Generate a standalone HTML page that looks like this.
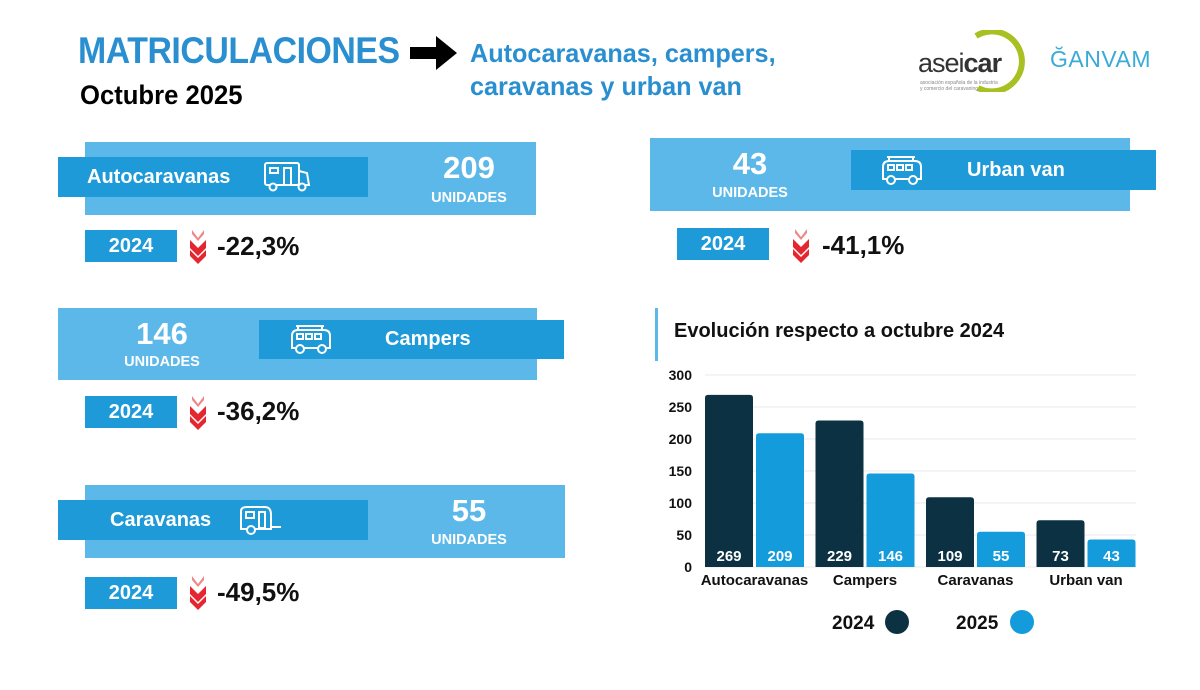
<!DOCTYPE html>
<html><head><meta charset="utf-8">
<style>
*{margin:0;padding:0;box-sizing:border-box}
body{width:1200px;height:690px;background:#fff;position:relative;overflow:hidden;font-family:"Liberation Sans",sans-serif}
.a{position:absolute}
.light{background:#5db8ea}
.dark{background:#1e9ad9}
.lbl{color:#fff;font-weight:bold;font-size:20px;line-height:40px}
.num{color:#fff;font-weight:bold;font-size:31px;text-align:center;width:140px}
.uni{color:#fff;font-weight:bold;font-size:14.5px;text-align:center;width:140px}
.yr{background:#1e9ad9;color:#fff;font-weight:bold;font-size:20px;text-align:center;width:92px;height:32px;line-height:32px}
.pct{font-weight:bold;font-size:26px;color:#111}
.narrow{font-weight:bold;transform-origin:0 0;white-space:nowrap}
</style></head><body>
<div class="a narrow" style="left:78px;top:30px;font-size:37px;color:#2a8fd0;letter-spacing:-0.5px;transform:scaleX(0.915)">MATRICULACIONES</div>
<svg class="a" style="left:410px;top:36px" width="48" height="34"><polygon points="0,11 26,11 26,0 47,17 26,34 26,23 0,23" fill="#000"/></svg>
<div class="a narrow" style="left:470px;top:37px;font-size:26px;color:#2a8fd0;line-height:33px;transform:scaleX(0.97)">Autocaravanas, campers,<br>caravanas y urban van</div>
<div class="a narrow" style="left:80px;top:80px;font-size:27px;color:#000;transform:scaleX(0.95)">Octubre 2025</div>
<div class="a" style="left:918px;top:30px;width:110px;height:62px">
<svg class="a" style="left:30px;top:0" width="80" height="62"><path d="M28,6 A30,30 0 1 1 30,58" fill="none" stroke="#a8c022" stroke-width="6"/></svg>
<div class="a" style="left:0;top:18px;font-size:27px;color:#333;letter-spacing:-1px">asei<b>car</b></div>
<div class="a" style="left:2px;top:50px;font-size:5px;color:#888;width:80px">asociación española de la industria y comercio del caravaning</div>
</div>
<div class="a" style="left:1050px;top:46px;font-size:23px;color:#3aaad8;letter-spacing:0.5px">ĞANVAM</div>

<!-- Autocaravanas card -->
<div class="a light" style="left:85px;top:142px;width:451px;height:73px"></div>
<div class="a dark" style="left:58px;top:157px;width:310px;height:40px"></div>
<div class="a lbl" style="left:87px;top:157px">Autocaravanas</div>
<svg class="a" style="left:263px;top:161px" width="48" height="32" fill="none" stroke="#fff" stroke-width="2"><rect x="2" y="2" width="34" height="22" rx="2"/><path d="M36,10 L44,12 L46,24 L36,24"/><rect x="7" y="7" width="8" height="5"/><path d="M21,24 V7 H28 V24"/><circle cx="10" cy="26" r="3.5" fill="#1e9ad9"/><circle cx="39" cy="26" r="3.5" fill="#1e9ad9"/></svg>
<div class="a num" style="left:399px;top:150px">209</div>
<div class="a uni" style="left:399px;top:190px">UNIDADES</div>
<div class="a yr" style="left:85px;top:230px">2024</div>
<svg class="a" style="left:188px;top:228px" width="20" height="36"><polygon points="2,12 10,20 18,12 18,20 10,28 2,20" fill="#e3262f"/><polygon points="2,22 10,30 18,22 18,28 10,36 2,28" fill="#e3262f"/><polygon points="4,2 10,10 16,2 16,6 10,13 4,6" fill="#e88"/></svg>
<div class="a pct" style="left:217px;top:231px">-22,3%</div>

<!-- Campers card -->
<div class="a light" style="left:58px;top:308px;width:479px;height:72px"></div>
<div class="a dark" style="left:259px;top:320px;width:305px;height:39px"></div>
<svg class="a" style="left:288px;top:322px" width="46" height="34" fill="none" stroke="#fff" stroke-width="2"><path d="M8,4 H36 M10,4 V8 M34,4 V8"/><path d="M4,26 V14 Q4,8 10,8 H36 Q42,8 42,14 V26 Z"/><rect x="9" y="12" width="6" height="5"/><rect x="18" y="12" width="6" height="5"/><rect x="27" y="12" width="6" height="5"/><circle cx="12" cy="27" r="4" fill="#1e9ad9"/><circle cx="34" cy="27" r="4" fill="#1e9ad9"/></svg>
<div class="a lbl" style="left:385px;top:319px">Campers</div>
<div class="a num" style="left:92px;top:316px">146</div>
<div class="a uni" style="left:92px;top:354px">UNIDADES</div>
<div class="a yr" style="left:85px;top:396px">2024</div>
<svg class="a" style="left:188px;top:394px" width="20" height="36"><polygon points="2,12 10,20 18,12 18,20 10,28 2,20" fill="#e3262f"/><polygon points="2,22 10,30 18,22 18,28 10,36 2,28" fill="#e3262f"/><polygon points="4,2 10,10 16,2 16,6 10,13 4,6" fill="#e88"/></svg>
<div class="a pct" style="left:217px;top:396px">-36,2%</div>

<!-- Caravanas card -->
<div class="a light" style="left:85px;top:485px;width:480px;height:73px"></div>
<div class="a dark" style="left:58px;top:500px;width:310px;height:40px"></div>
<div class="a lbl" style="left:110px;top:500px">Caravanas</div>
<svg class="a" style="left:237px;top:503px" width="46" height="34" fill="none" stroke="#fff" stroke-width="2"><path d="M4,26 V8 Q4,4 10,4 H28 Q34,4 34,12 V26 Z"/><rect x="9" y="9" width="8" height="6"/><rect x="22" y="9" width="6" height="16"/><path d="M34,24 H44"/><circle cx="14" cy="27" r="4" fill="#1e9ad9"/></svg>
<div class="a num" style="left:399px;top:493px">55</div>
<div class="a uni" style="left:399px;top:532px">UNIDADES</div>
<div class="a yr" style="left:85px;top:577px">2024</div>
<svg class="a" style="left:188px;top:574px" width="20" height="36"><polygon points="2,12 10,20 18,12 18,20 10,28 2,20" fill="#e3262f"/><polygon points="2,22 10,30 18,22 18,28 10,36 2,28" fill="#e3262f"/><polygon points="4,2 10,10 16,2 16,6 10,13 4,6" fill="#e88"/></svg>
<div class="a pct" style="left:217px;top:577px">-49,5%</div>

<!-- Urban van card -->
<div class="a light" style="left:650px;top:138px;width:480px;height:73px"></div>
<div class="a dark" style="left:851px;top:150px;width:305px;height:40px"></div>
<svg class="a" style="left:879px;top:153px" width="46" height="34" fill="none" stroke="#fff" stroke-width="2"><path d="M8,4 H36 M10,4 V8 M34,4 V8"/><path d="M4,26 V14 Q4,8 10,8 H36 Q42,8 42,14 V26 Z"/><rect x="9" y="12" width="6" height="5"/><rect x="18" y="12" width="6" height="5"/><rect x="27" y="12" width="6" height="5"/><circle cx="12" cy="27" r="4" fill="#1e9ad9"/><circle cx="34" cy="27" r="4" fill="#1e9ad9"/></svg>
<div class="a lbl" style="left:967px;top:150px">Urban van</div>
<div class="a num" style="left:680px;top:146px">43</div>
<div class="a uni" style="left:680px;top:185px">UNIDADES</div>
<div class="a yr" style="left:677px;top:228px">2024</div>
<svg class="a" style="left:791px;top:227px" width="20" height="36"><polygon points="2,12 10,20 18,12 18,20 10,28 2,20" fill="#e3262f"/><polygon points="2,22 10,30 18,22 18,28 10,36 2,28" fill="#e3262f"/><polygon points="4,2 10,10 16,2 16,6 10,13 4,6" fill="#e88"/></svg>
<div class="a pct" style="left:822px;top:230px">-41,1%</div>

<!-- Chart -->
<div class="a" style="left:655px;top:308px;width:3px;height:53px;background:#5db8ea"></div>
<div class="a" style="left:674px;top:320px;font-size:20px;font-weight:bold;color:#111">Evolución respecto a octubre 2024</div>
<svg id="chart" class="a" style="left:0;top:0" width="1200" height="690"></svg>
<script>
const categories=["Autocaravanas","Campers","Caravanas","Urban van"];
const values2024=[269,229,109,73];
const values2025=[209,146,55,43];
const yTicks=[0,50,100,150,200,250,300];
const legendLabels=["2024","2025"];
const NS="http://www.w3.org/2000/svg";
const svg=document.getElementById('chart');
const y0=567,yTop=375,yMax=300,xL=705,groupW=110.5,barW=48,gap=3;
function y(v){return y0-(v/yMax)*(y0-yTop);}
function xg(i){return xL+i*groupW;}
function mk(t,a){const e=document.createElementNS(NS,t);for(const k in a)e.setAttribute(k,a[k]);svg.appendChild(e);return e;}
yTicks.forEach(t=>{
  const l=mk('line',{x1:xL,x2:1136,y1:y(t),y2:y(t),stroke:'#e8e8e8','stroke-width':1});
  
  
  const tx=mk('text',{x:692,y:y(t)+5,'text-anchor':'end','font-family':'Liberation Sans, sans-serif','font-size':14,'font-weight':'bold',fill:'#111'});
  tx.textContent=t;
  
  
});
categories.forEach((c,i)=>{
  [[values2024[i],'#0b3142',0],[values2025[i],'#139bdc',1]].forEach(([v,col,k])=>{
    const x=xg(i)+k*(barW+gap);
    const r=mk('path',{d:`M${x},${y0} V${y(v)+3} Q${x},${y(v)} ${x+3},${y(v)} H${x+barW-3} Q${x+barW},${y(v)} ${x+barW},${y(v)+3} V${y0} Z`,fill:col});
    
    
    const t=mk('text',{x:x+barW/2,y:y0-6,'text-anchor':'middle','font-family':'Liberation Sans, sans-serif','font-size':15,'font-weight':'bold',fill:'#fff'});
    t.textContent=v;
    
    
  });
  const cl=mk('text',{x:xg(i)+barW+gap/2,y:585,'text-anchor':'middle','font-family':'Liberation Sans, sans-serif','font-size':15,'font-weight':'bold',fill:'#111'});
  cl.textContent=c;
  
  
});
[[832,897,'#0b3142'],[956,1022,'#139bdc']].forEach(([tx,cx,col],k)=>{
  const t=mk('text',{x:tx,y:629,'font-family':'Liberation Sans, sans-serif','font-size':19,'font-weight':'bold',fill:'#111'});
  t.textContent=legendLabels[k];
  
  
  const c=mk('circle',{cx:cx,cy:622,r:12,fill:col});
  
  
});
</script>
</body></html>
